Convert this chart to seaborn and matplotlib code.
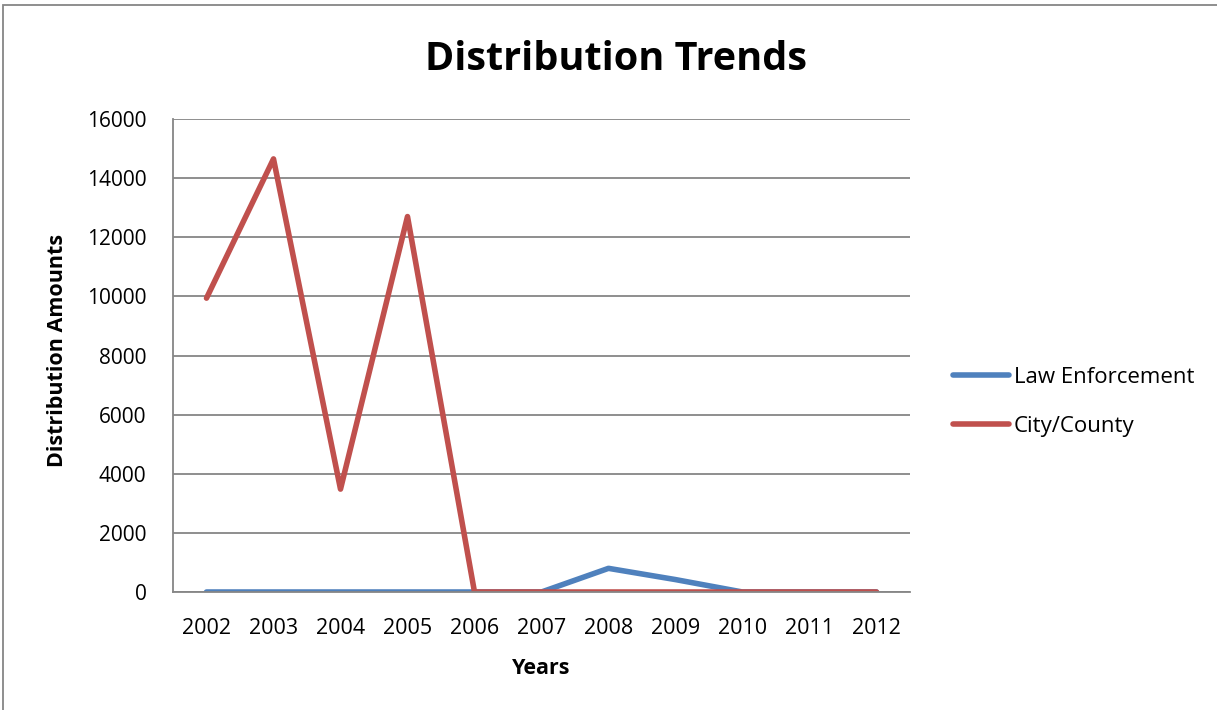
import matplotlib
matplotlib.use("Agg")
import matplotlib.pyplot as plt
import seaborn as sns
import pandas as pd
from matplotlib.patches import Rectangle
from matplotlib.lines import Line2D

years = ["2002", "2003", "2004", "2005", "2006", "2007", "2008", "2009", "2010", "2011", "2012"]
law_enforcement = [0, 0, 0, 0, 0, 0, 800, 420, 0, 0, 0]
city_county = [9940, 14650, 3480, 12700, 0, 0, 0, 0, 0, 0, 0]
series_names = ["Law Enforcement", "City/County"]
colors = ["#4F81BD", "#C0504D"]
y_ticks = [0, 2000, 4000, 6000, 8000, 10000, 12000, 14000, 16000]

sns.set_theme(style="white")
plt.rcParams['font.family'] = ['Open Sans', 'DejaVu Sans']
plt.rcParams['text.color'] = 'black'
plt.rcParams['axes.labelcolor'] = 'black'

df = pd.DataFrame({
    "x": list(range(len(years))) * 2,
    "value": law_enforcement + city_county,
    "series": [series_names[0]] * len(years) + [series_names[1]] * len(years),
})

W, H = 1217, 710
fig = plt.figure(figsize=(W / 100, H / 100), dpi=100)
ax = fig.add_axes([173 / W, 1 - 592 / H, (910 - 173) / W, (592 - 119) / H])

sns.lineplot(data=df, x="x", y="value", hue="series", hue_order=series_names,
             palette=colors, linewidth=4.0, ax=ax, legend=False,
             solid_capstyle="round", solid_joinstyle="round")

ax.set_xlim(-0.5, len(years) - 0.5)
ax.set_ylim(0, 16000)
ax.set_yticks(y_ticks)
ax.set_yticklabels([str(v) for v in y_ticks])
ax.set_xticks(list(range(len(years))))
ax.set_xticklabels(years)
ax.set_xticks([i - 0.5 for i in range(len(years) + 1)], minor=True)
ax.tick_params(axis="x", which="major", length=0, pad=19, labelsize=15.5, labelcolor="black")
ax.tick_params(axis="x", which="minor", length=6, width=1.3, color="#868686", direction="out")
ax.tick_params(axis="y", which="major", length=6, width=1.3, color="#868686", direction="out",
               pad=13, labelsize=15, labelcolor="black")
ax.yaxis.grid(True, color="#868686", linewidth=1.3)
ax.xaxis.grid(False)
ax.set_axisbelow(True)
for s in ["top", "right"]:
    ax.spines[s].set_visible(False)
for s in ["left", "bottom"]:
    ax.spines[s].set_color("#868686")
    ax.spines[s].set_linewidth(1.3)

ax.set_xlabel("Years", fontsize=15.5, fontweight="bold", va="center", ha="center", color="black")
ax.xaxis.set_label_coords((541 - 173) / (910 - 173), (592 - 668) / (592 - 119))
ax.set_ylabel("Distribution Amounts", fontsize=15.5, fontweight="bold", va="center", ha="center",
              color="black")
ax.yaxis.set_label_coords((57 - 173) / (910 - 173), (592 - 350) / (592 - 119))

fig.text(616 / W, 1 - 60 / H, "Distribution Trends", ha="center", va="center",
         fontsize=28.5, fontweight="bold", color="black")

handles = [Line2D([0], [0], color=c, linewidth=4.0, solid_capstyle="round") for c in colors]
fig.legend(handles, series_names, loc="center left", bbox_to_anchor=(942 / W, 1 - 402 / H),
           frameon=False, fontsize=16, handlelength=2.5, handletextpad=0.22, labelspacing=1.25,
           borderpad=0)

fig.patches.append(Rectangle((3 / W, -0.1), 1.2, 1 - 5 / H + 0.1, transform=fig.transFigure,
                             fill=False, edgecolor="#868686", linewidth=1.3))

fig.savefig("out.png", dpi=100)
